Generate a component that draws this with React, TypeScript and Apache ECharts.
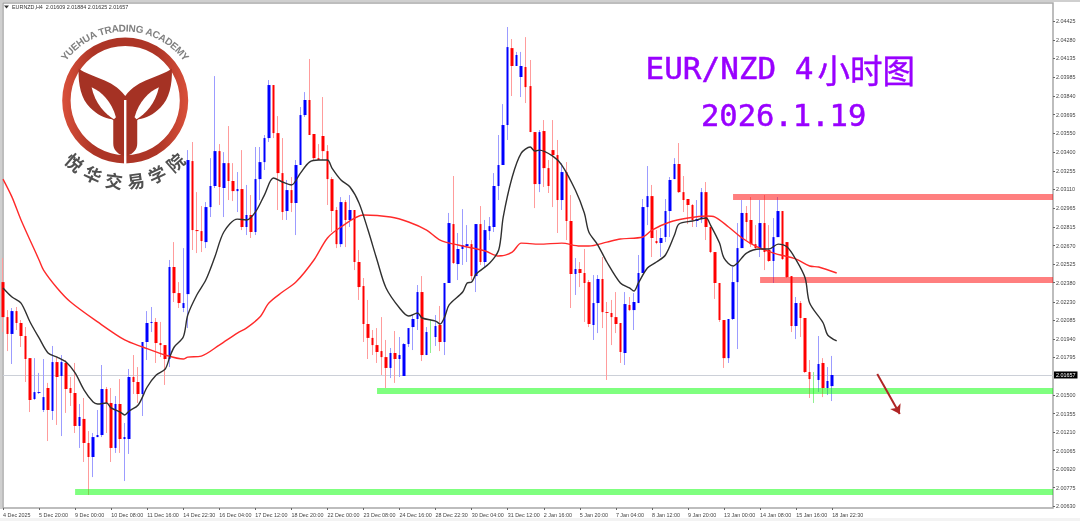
import React, { useEffect, useRef } from "react";
import * as echarts from "echarts";

// [open, close, low, high] for each 4-hour bar
const candles: number[][] = [
  [2.02384,2.0211,2.01993,2.02572],[2.0211,2.01978,2.01844,2.02165],[2.01978,2.02157,2.01743,2.02181],[2.02157,2.02064,2.02009,2.02189],
  [2.02064,2.01962,2.01876,2.02087],[2.01962,2.01782,2.01602,2.02032],[2.01789,2.01461,2.01367,2.01789],[2.01469,2.01523,2.01461,2.01789],
  [2.01516,2.01523,2.01508,2.01673],[2.01383,2.01484,2.01367,2.01782],[2.01555,2.01383,2.0114,2.01595],[2.01375,2.01758,2.01305,2.01884],
  [2.01758,2.01641,2.01266,2.01797],[2.01649,2.01758,2.01179,2.01813],[2.01751,2.01547,2.0136,2.01774],[2.01555,2.01516,2.01414,2.01641],
  [2.01516,2.01258,2.01203,2.01751],[2.01258,2.01328,2.01086,2.0143],[2.01313,2.01125,2.00976,2.01477],[2.01125,2.01015,2.00718,2.01218],
  [2.01015,2.01171,2.00858,2.01203],[2.01171,2.01187,2.01171,2.01383],[2.01187,2.01547,2.01171,2.01735],[2.01547,2.01438,2.01203,2.01563],
  [2.01438,2.01086,2.00976,2.01555],[2.01086,2.0143,2.01047,2.01492],[2.0143,2.01156,2.01047,2.01625],[2.01156,2.01171,2.00827,2.01281],
  [2.01156,2.01641,2.01039,2.01704],[2.01641,2.01602,2.01508,2.01813],[2.01602,2.01508,2.01438,2.01719],[2.01508,2.01915,2.01336,2.01915],
  [2.01915,2.02064,2.01774,2.02157],[2.02064,2.02072,2.01993,2.02189],[2.02072,2.01907,2.01751,2.02103],[2.01907,2.01891,2.01797,2.02072],
  [2.01891,2.01782,2.01579,2.01891],[2.01782,2.02502,2.01719,2.02557],[2.02502,2.02298,2.02228,2.02697],[2.02298,2.0222,2.02181,2.02384],
  [2.02181,2.0222,2.02149,2.0265],[2.0229,2.03339,2.02024,2.03417],[2.03331,2.02791,2.02635,2.0348],[2.02791,2.02783,2.02611,2.03088],
  [2.02783,2.02705,2.02619,2.02979],[2.02697,2.02971,2.0265,2.0301],[2.02971,2.03136,2.02893,2.03354],[2.03136,2.03409,2.0312,2.03996],
  [2.03409,2.03128,2.02987,2.03464],[2.0312,2.03315,2.02893,2.03401],[2.03315,2.03175,2.03026,2.03605],[2.03175,2.03096,2.03018,2.03315],
  [2.03096,2.03112,2.02932,2.03245],[2.03112,2.02815,2.02791,2.03417],[2.02815,2.02909,2.02752,2.03144],[2.02909,2.02776,2.02729,2.03065],
  [2.02776,2.0319,2.02752,2.03441],[2.0319,2.03323,2.03026,2.03441],[2.03323,2.03511,2.03261,2.03535],[2.03511,2.03926,2.0348,2.03965],
  [2.03926,2.0355,2.03511,2.03926],[2.0355,2.03237,2.02948,2.03683],[2.03237,2.02932,2.0287,2.03511],[2.0294,2.03104,2.0287,2.03183],
  [2.03104,2.03003,2.02932,2.03206],[2.03003,2.033,2.02752,2.03339],[2.033,2.03691,2.033,2.03754],[2.03691,2.03809,2.03676,2.03871],
  [2.03809,2.03535,2.03535,2.0413],[2.03543,2.03354,2.03339,2.03543],[2.03354,2.03339,2.03339,2.03464],[2.03527,2.03409,2.03339,2.03832],
  [2.03409,2.0319,2.02987,2.03456],[2.0319,2.0294,2.02776,2.03206],[2.02948,2.02681,2.0265,2.02971],[2.02681,2.0301,2.02658,2.03049],
  [2.0301,2.0287,2.02658,2.03026],[2.0287,2.02948,2.02815,2.03065],[2.02948,2.02541,2.02478,2.02948],[2.02541,2.02345,2.02244,2.02635],
  [2.02353,2.02056,2.01915,2.02416],[2.02056,2.01947,2.01782,2.02244],[2.01947,2.01891,2.01813,2.02009],[2.01891,2.01837,2.01751,2.02024],
  [2.01844,2.01797,2.01657,2.0211],[2.01797,2.01712,2.01555,2.01931],[2.01712,2.01829,2.01633,2.01868],[2.01829,2.01782,2.01595,2.02001],
  [2.01782,2.01813,2.01641,2.01954],[2.01649,2.01899,2.01649,2.01907],[2.01899,2.02024,2.01876,2.02024],[2.02032,2.02095,2.01852,2.02126],
  [2.02095,2.02306,2.02009,2.02361],[2.02306,2.01813,2.01766,2.02431],[2.01813,2.01993,2.01813,2.02032],[2.01985,2.01985,2.01829,2.02095],
  [2.01954,2.0204,2.01884,2.02126],[2.02048,2.01915,2.01844,2.02197],[2.01915,2.02377,2.01813,2.02377],[2.02377,2.02846,2.02377,2.02925],
  [2.02838,2.02533,2.02525,2.03214],[2.02525,2.02643,2.024,2.02768],[2.02643,2.02674,2.02518,2.02955],[2.02666,2.02681,2.02541,2.0283],
  [2.02681,2.02431,2.024,2.02713],[2.02431,2.02838,2.02306,2.02838],[2.02838,2.02541,2.02518,2.02979],[2.02541,2.02791,2.02502,2.0287],
  [2.02783,2.02822,2.02713,2.02893],[2.02815,2.03136,2.02776,2.03237],[2.03136,2.033,2.03026,2.03535],[2.033,2.03613,2.033,2.03777],
  [2.03613,2.04223,2.03496,2.0438],[2.04215,2.04075,2.0384,2.04286],[2.04075,2.04161,2.04075,2.04185],[2.03989,2.04075,2.03832,2.04185],
  [2.04067,2.0391,2.03785,2.04301],[2.03918,2.03558,2.03558,2.04122],[2.03558,2.03151,2.02963,2.03558],[2.03151,2.03558,2.03088,2.03574],
  [2.03566,2.03276,2.03128,2.03652],[2.03276,2.03136,2.03081,2.03339],[2.03417,2.03378,2.02971,2.03652],[2.03378,2.03026,2.02768,2.03496],
  [2.03026,2.03245,2.02948,2.03315],[2.03245,2.02862,2.02713,2.03323],[2.02862,2.02447,2.02181,2.03065],[2.02447,2.02486,2.02283,2.02572],
  [2.02486,2.02455,2.02345,2.02541],[2.02455,2.02377,2.02072,2.02643],[2.02384,2.02056,2.02032,2.024],[2.02048,2.0222,2.01931,2.02439],
  [2.0222,2.02408,2.01985,2.02439],[2.02408,2.02149,2.02024,2.0258],[2.02149,2.02142,2.01618,2.02228],[2.02142,2.0211,2.01891,2.02244],
  [2.0211,2.02056,2.01985,2.02306],[2.02064,2.01837,2.01751,2.02064],[2.01829,2.02212,2.01735,2.02306],[2.02205,2.02165,2.02157,2.02267],
  [2.02165,2.02228,2.02009,2.02298],[2.0222,2.02455,2.0222,2.02596],[2.02455,2.02971,2.02455,2.03034],[2.02971,2.03057,2.0283,2.03292],
  [2.03057,2.02729,2.0258,2.03144],[2.02705,2.0269,2.02681,2.02791],[2.0269,2.02729,2.0258,2.02807],[2.02737,2.0294,2.02697,2.03034],
  [2.0294,2.03183,2.02737,2.03206],[2.0319,2.03308,2.0319,2.03354],[2.03308,2.03088,2.03081,2.03472],[2.03088,2.03026,2.02932,2.03214],
  [2.03034,2.02987,2.02838,2.03034],[2.02987,2.0287,2.02815,2.02995],[2.02862,2.02877,2.02815,2.03026],[2.02877,2.03088,2.02846,2.0312],
  [2.03088,2.02815,2.02713,2.03167],[2.02815,2.02619,2.02611,2.02815],[2.02619,2.02377,2.02252,2.02619],[2.02377,2.02087,2.02072,2.02377],
  [2.02087,2.01789,2.01712,2.02087],[2.01789,2.02095,2.01751,2.02095],[2.02095,2.02384,2.02087,2.02502],[2.02384,2.0265,2.0186,2.02846],
  [2.0265,2.02925,2.0265,2.03026],[2.02925,2.02854,2.02713,2.02979],[2.0287,2.02681,2.02658,2.03049],[2.02681,2.0265,2.02635,2.0283],
  [2.0265,2.02846,2.0258,2.03026],[2.02846,2.02619,2.02478,2.03065],[2.02635,2.02549,2.02541,2.0283],[2.02549,2.02736,2.02377,2.02885],
  [2.02736,2.0294,2.02736,2.03049],[2.0294,2.02564,2.02557,2.0294],[2.02697,2.02423,2.02416,2.02697],[2.02431,2.0204,2.01993,2.02431],
  [2.0204,2.0222,2.01938,2.02267],[2.0222,2.02103,2.01954,2.02236],[2.02103,2.0168,2.01673,2.02103],[2.0168,2.01625,2.01477,2.01774],
  [2.01649,2.01649,2.01438,2.0168],[2.01618,2.01743,2.01524,2.01962],[2.01751,2.01555,2.01484,2.01789],[2.01555,2.0161,2.015,2.01719],
  [2.0157,2.01657,2.01453,2.01806],
];

// moving averages as [bar index, price] readings
const maBlack: number[][] = [
  [0,2.02338],[2,2.02267],[4,2.0222],[6,2.02072],[8,2.01947],[10,2.01829],[12,2.01797],[14,2.01758],[16,2.01673],[18,2.01539],[20,2.01445],[21,2.0143],
  [23,2.01438],[24,2.01399],[26,2.01367],[27,2.01344],[28,2.01375],[30,2.01422],[32,2.01563],[34,2.01657],[36,2.01704],[37,2.01797],[38,2.01876],[40,2.01954],
  [41,2.02126],[43,2.02283],[45,2.024],[47,2.0258],[49,2.02776],[52,2.02877],[54,2.0287],[56,2.02932],[58,2.03065],[60,2.03198],[62,2.03167],[64,2.03144],
  [66,2.03237],[68,2.03323],[70,2.03339],[72,2.03339],[73,2.03276],[75,2.03183],[77,2.03128],[79,2.03003],[81,2.02791],[83,2.02557],[85,2.02338],[88,2.02181],
  [90,2.02118],[92,2.02142],[93,2.02103],[96,2.02079],[97,2.02056],[98,2.0211],[99,2.02205],[102,2.02306],[103,2.02377],[104,2.02384],[105,2.02447],[108,2.02533],
  [110,2.02635],[111,2.02893],[113,2.03206],[115,2.03393],[117,2.03441],[118,2.03409],[119,2.03417],[122,2.0337],[124,2.033],[127,2.03104],[129,2.02925],[130,2.02776],
  [132,2.02674],[134,2.02541],[137,2.02377],[139,2.02338],[140,2.02314],[141,2.02377],[143,2.02494],[145,2.02541],[147,2.02596],[149,2.02752],[150,2.02838],[153,2.02862],
  [156,2.02885],[157,2.0283],[159,2.02689],[160,2.02572],[162,2.0251],[163,2.02533],[165,2.02611],[168,2.02643],[170,2.02643],[172,2.02681],[174,2.02658],[176,2.02557],
  [178,2.02416],[179,2.0222],[182,2.02064],[183,2.0197],[185,2.01923],
];
const maRed: number[][] = [
  [0,2.0319],[2,2.03049],[4,2.0287],[8,2.02557],[9,2.02478],[12,2.02338],[15,2.02228],[21,2.02072],[27,2.01931],[31,2.01876],[36,2.01813],[40,2.01782],
  [41,2.01797],[44,2.01805],[48,2.01891],[52,2.01985],[54,2.02024],[57,2.0211],[59,2.0222],[62,2.02306],[65,2.02384],[69,2.02557],[72,2.02729],[75,2.02815],
  [80,2.02909],[86,2.02893],[90,2.02854],[94,2.02791],[97,2.02713],[101,2.02674],[107,2.02627],[110,2.02588],[113,2.02619],[115,2.02689],[119,2.02681],[124,2.02689],
  [128,2.02666],[130,2.02666],[134,2.02697],[137,2.02721],[142,2.02737],[144,2.02791],[148,2.02854],[152,2.02885],[156,2.02901],[158,2.02893],[161,2.02815],[164,2.02729],
  [167,2.02666],[171,2.02611],[176,2.02564],[179,2.0251],[181,2.02502],[185,2.02455],
];

// horizontal zones: [first bar, top price, bottom price]
const redZones: number[][] = [[162,2.03073,2.03026],[168,2.02423,2.02377]];
const greenZones: number[][] = [[83,2.01555,2.01508],[16,2.00765,2.00718]];
// trend arrow: [bar, price] start and end
const arrowFrom = [194, 2.01665];
const arrowTo = [199, 2.01352];

const lastPrice = 2.01657;
const timeLabels = [
  "4 Dec 2025","5 Dec 20:00","9 Dec 00:00","10 Dec 08:00","11 Dec 16:00","14 Dec 22:30","16 Dec 04:00","17 Dec 12:00",
  "18 Dec 20:00","22 Dec 00:00","23 Dec 08:00","24 Dec 16:00","28 Dec 22:30","30 Dec 04:00","31 Dec 12:00","2 Jan 16:00",
  "5 Jan 20:00","7 Jan 04:00","8 Jan 12:00","9 Jan 20:00","13 Jan 00:00","14 Jan 08:00","15 Jan 16:00","18 Jan 22:30",
];
const priceLabels = [
  2.04425,2.0428,2.04135,2.03985,2.0384,2.03695,2.0355,2.034,2.03255,2.0311,2.02965,2.02815,2.0267,2.02525,2.0238,
  2.0223,2.02085,2.0194,2.01795,2.015,2.01355,2.0121,2.01065,2.0092,2.00775,2.0063,
];
const totalSlots = 234;
const labelStep = 8;
const headerText = "EURNZD,H4  2.01609 2.01884 2.01625 2.01657";
const academyEn = "YUEHUA TRADING ACADEMY";
const academyCn = "悦华交易学院";

const TAIL = "M116 176C155 205 215 205 256 258C297 205 357 205 396 176C398 225 388 268 362 293C340 315 318 325 296 328L292 331L292 400C292 418 282 430 262 438L250 438C230 430 220 418 220 400L220 331L216 328C194 325 172 315 150 293C124 268 114 225 116 176Z";
const LEAF_L = "M155 232C185 245 215 275 228 322L222 328C195 312 165 280 155 232Z";
const LEAF_R = "M357 232C327 245 297 275 284 322L290 328C317 312 347 280 357 232Z";
echarts.graphic.registerShape("ytail", echarts.graphic.extendPath(TAIL, {}));
echarts.graphic.registerShape("yleafL", echarts.graphic.extendPath(LEAF_L, {}));
echarts.graphic.registerShape("yleafR", echarts.graphic.extendPath(LEAF_R, {}));

const BLUE = "#0000ff";
const RED = "#ff0000";
const deg = Math.PI / 180;

function logoElements(): any[] {
  const cx = 125.2, cy = 100.5, acx = 125, acy = 105;
  const ringFill = new echarts.graphic.LinearGradient(0, 0, 1, 0, [
    { offset: 0, color: "#d9503a" }, { offset: 0.25, color: "#ad3526" },
    { offset: 0.75, color: "#ad3526" }, { offset: 1, color: "#d9503a" },
  ]);
  const shape = (type: string, fill: any) => ({ type, x: 40, y: 10, scaleX: 1 / 3, scaleY: 1 / 3, style: { fill }, z: 1 });
  const out: any[] = [
    { type: "ring", shape: { cx, cy, r: 63, r0: 54.6 }, style: { fill: ringFill }, z: 1 },
    shape("ytail", "#a53224"),
    shape("yleafL", "#ffffff"),
    shape("yleafR", "#ffffff"),
    { type: "rect", shape: { x: 124, y: 100, width: 2.4, height: 65 }, style: { fill: "#ffffff" }, z: 1 },
  ];
  const chars = academyEn.split("");
  const enFont = "bold 10px 'Liberation Sans'";
  const ctx = document.createElement("canvas").getContext("2d")!;
  ctx.font = enFont;
  const widths = chars.map((c) => ctx.measureText(c).width);
  const total = widths.reduce((a, b) => a + b, 0);
  const span = 107 * deg;
  let run = 0;
  chars.forEach((c, i) => {
    const a = -span / 2 + ((run + widths[i] / 2) / total) * span;
    run += widths[i];
    out.push({
      type: "text", x: acx + 77 * Math.sin(a), y: acy - 77 * Math.cos(a), rotation: -a, z: 1,
      style: { text: c, fill: "#808080", font: enFont, align: "center", verticalAlign: "middle" },
    });
  });
  academyCn.split("").forEach((c, i) => {
    const a = (-41.25 + 16.5 * i) * deg;
    out.push({
      type: "text", x: acx + 76 * Math.sin(a), y: acy + 76 * Math.cos(a), rotation: a, z: 1,
      style: { text: c, fill: "#505050", font: "bold 17.5px 'Noto Sans CJK SC'", align: "center", verticalAlign: "middle" },
    });
  });
  return out;
}

export default function App() {
  const ref = useRef<HTMLDivElement>(null);
  useEffect(() => {
    const chart = echarts.init(ref.current!, null, { renderer: "svg" });
    const categories = Array.from({ length: totalSlots }, (_, i) =>
      i % labelStep === 0 ? timeLabels[i / labelStep] ?? "" : "",
    );
    const isLabelled = (_: number, v: string) => v !== "";
    const bodies = candles.map(([o, c]) => [o, c, Math.min(o, c), Math.max(o, c)]);
    const zoneData = (z: number[], last: number) => [
      { xAxis: z[0], yAxis: z[1] },
      { xAxis: last, yAxis: z[2] },
    ];
    const TITLE = "#9900ff";
    chart.setOption({
      animation: false,
      backgroundColor: "#ffffff",
      grid: { left: 3, right: 27, top: 3, bottom: 13, show: true, borderColor: "#a8a8a8", borderWidth: 1.5, backgroundColor: "#ffffff" },
      xAxis: {
        type: "category",
        data: categories,
        boundaryGap: false,
        axisLine: { show: false },
        axisTick: { interval: isLabelled, length: 2, inside: false, lineStyle: { color: "#666666", width: 1 } },
        axisLabel: { interval: isLabelled, align: "left", fontSize: 5.4, color: "#444444", margin: 4, fontFamily: "Liberation Sans", hideOverlap: false },
        splitLine: { show: false },
      },
      yAxis: {
        type: "value",
        position: "right",
        min: 2.00616,
        max: 2.04568,
        splitLine: { show: false },
        axisLine: { show: false },
        axisTick: { show: true, length: 2, customValues: priceLabels, lineStyle: { color: "#666666" } },
        axisLabel: {
          customValues: priceLabels, fontSize: 5.4, color: "#444444", margin: 3, fontFamily: "Liberation Sans",
          formatter: (v: number) => v.toFixed(5),
        },
      },
      series: [
        {
          type: "line", data: [], z: 1, silent: true,
          markLine: {
            silent: true, symbol: "none", z: 1,
            lineStyle: { color: "#ccd0d8", width: 1.2, type: "solid" },
            label: {
              show: true, position: "end", distance: 1, formatter: () => lastPrice.toFixed(5),
              backgroundColor: "#000000", color: "#ffffff", fontSize: 5.4, fontFamily: "Liberation Sans", padding: [1, 2],
            },
            data: [[{ coord: [0, lastPrice] }, { coord: [totalSlots - 1, lastPrice] }]],
          },
        },
        {
          type: "candlestick", data: candles, barWidth: 1, z: 2, silent: true,
          itemStyle: { color: "#9c9cff", color0: "#ff9c9c", borderColor: "#9c9cff", borderColor0: "#ff9c9c", borderColorDoji: "#90f090", borderWidth: 1 },
        },
        {
          type: "candlestick", data: bodies, barWidth: 3, z: 3, silent: true,
          itemStyle: { color: BLUE, color0: RED, borderColor: BLUE, borderColor0: RED, borderColorDoji: "#90f090", borderWidth: 0 },
        },
        {
          type: "line", data: [], z: 6, silent: true,
          markArea: {
            silent: true, z: 6, label: { show: false },
            itemStyle: { color: "rgba(255,0,0,0.5)" },
            data: redZones.map((z) => zoneData(z, totalSlots - 1)),
          },
        },
        {
          type: "line", data: [], z: 6, silent: true,
          markArea: {
            silent: true, z: 6, label: { show: false },
            itemStyle: { color: "rgba(0,255,0,0.5)" },
            data: greenZones.map((z) => zoneData(z, totalSlots - 1)),
          },
        },
        { type: "line", data: maRed, z: 7, silent: true, symbol: "none", smooth: 0.3, lineStyle: { color: "#ff2a2a", width: 1.4 } },
        { type: "line", data: maBlack, z: 8, silent: true, symbol: "none", smooth: 0.3, lineStyle: { color: "#303030", width: 1.4 } },
        {
          type: "line", data: [], z: 9, silent: true,
          markLine: {
            silent: true, z: 9, symbol: ["none", "arrow"], symbolSize: 9,
            lineStyle: { color: "#b02525", width: 2, type: "solid" }, label: { show: false },
            data: [[{ coord: arrowFrom }, { coord: arrowTo }]],
          },
        },
      ],
      graphic: [
        { type: "rect", shape: { x: 0, y: 0, width: 1080, height: 2 }, style: { fill: "#cfcfcf" }, z: 0 },
        { type: "rect", shape: { x: 0, y: 0, width: 2, height: 509 }, style: { fill: "#cfcfcf" }, z: 0 },
        { type: "rect", shape: { x: 0, y: 518, width: 1080, height: 3 }, style: { fill: "#f3f3f3" }, z: 0 },
        ...logoElements(),
        { type: "polygon", shape: { points: [[4, 5.5], [9, 5.5], [6.5, 8.5]] }, style: { fill: "#333333" }, z: 20 },
        { type: "text", x: 12, y: 7, z: 20, style: { text: headerText, fill: "#333333", font: "5.4px 'Liberation Sans'", verticalAlign: "middle" } },
        {
          type: "text", x: 645.5, y: 68, z: 20,
          style: {
            text: "{a|EUR/NZD 4}{b|小时图}", verticalAlign: "middle",
            rich: {
              a: { fill: TITLE, stroke: TITLE, lineWidth: 0.5, font: "31px 'DejaVu Sans Mono'" },
              b: { fill: TITLE, stroke: TITLE, lineWidth: 0.4, font: "32.5px 'Noto Sans CJK SC'", padding: [0, 0, 0, 4] },
            },
          },
        },
        { type: "text", x: 701, y: 115, z: 20, style: { text: "2026.1.19", fill: TITLE, stroke: TITLE, lineWidth: 0.5, font: "30.5px 'DejaVu Sans Mono'", verticalAlign: "middle" } },
      ],
    });
    return () => chart.dispose();
  }, []);
  return <div ref={ref} style={{ position: "absolute", left: 0, top: 0, width: 1080, height: 521, filter: "blur(0.45px)" }} />;
}
